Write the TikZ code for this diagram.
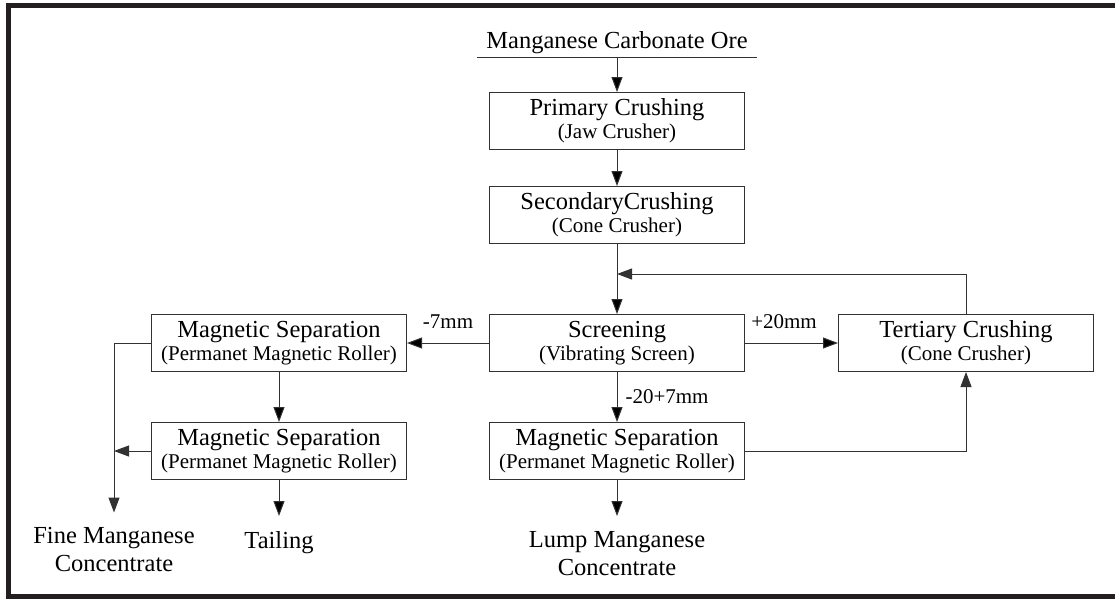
\documentclass[tikz,border=0pt]{standalone}
\usepackage{fontspec}
\setmainfont{Liberation Serif}
\usetikzlibrary{positioning,arrows.meta}

\definecolor{framegray}{RGB}{35,31,32}
\definecolor{linegray}{RGB}{50,50,50}

\newcommand{\procsub}[1]{{\fontsize{21}{23}\selectfont #1}}

\tikzset{
  proc/.style={draw=linegray, line width=1pt, minimum width=255pt, minimum height=57pt,
    align=center, inner sep=4pt, font=\fontsize{24.5}{23}\selectfont},
  outtext/.style={align=center, inner sep=0pt, outer ysep=15pt, font=\fontsize{24.5}{28}\selectfont},
  lbl/.style={inner sep=0pt, font=\fontsize{21}{24}\selectfont},
  flow/.style={->, draw=linegray, line width=1pt}
}

\begin{document}
\begin{tikzpicture}[x=1pt,y=-1pt,node distance=36pt,>={Triangle[length=15pt,width=11pt]}]
    \useasboundingbox (0,0) rectangle (1115,598);
    % frame
    \draw[line width=5pt, framegray] (1120,5.8) -- (8.5,5.8) -- (8.5,596) -- (1120,596);

    \node[font=\fontsize{24.5}{28}\selectfont, inner xsep=9pt, inner ysep=4.2pt, anchor=base] (ore) at (617,48) {Manganese Carbonate Ore};
    \draw[linegray, line width=1pt] (ore.south west) -- (ore.south east);

    \node[proc]                   (prim) at (617,121) {Primary Crushing\\\procsub{(Jaw Crusher)}};
    \node[proc, below=of prim]    (sec)  {SecondaryCrushing\\\procsub{(Cone Crusher)}};
    \node[proc, below=70pt of sec] (scr) {Screening\\\procsub{(Vibrating Screen)}};
    \node[proc, right=93pt of scr] (tert) {Tertiary Crushing\\\procsub{(Cone Crusher)}};
    \node[proc, left=82pt of scr]  (ms1)  {Magnetic Separation\\\procsub{(Permanet Magnetic Roller)}};
    \node[proc, below=50pt of ms1] (ms2)  {Magnetic Separation\\\procsub{(Permanet Magnetic Roller)}};
    \node[proc, below=50pt of scr] (ms3)  {Magnetic Separation\\\procsub{(Permanet Magnetic Roller)}};
    \node[outtext, below=of ms2]   (tail) {Tailing};
    \node[outtext, below=of ms3]   (lump) {Lump Manganese\\Concentrate};
    \node[outtext, anchor=north]   (fine) at (114,512.5) {Fine Manganese\\Concentrate};
    \coordinate[below=30pt of sec] (join);

    \path[flow] (ore)  edge (prim)
                (prim) edge (sec)
                (sec)  edge (scr)
                (scr)  edge node[lbl, above=14pt] {-7mm} (ms1)
                       edge node[lbl, above=14pt, pos=0.42] {+20mm} (tert)
                       edge node[lbl, right=8pt] {-20+7mm} (ms3)
                (ms1)  edge (ms2)
                (ms2)  edge (tail)
                (ms3)  edge (lump);
    \draw[flow] (tert) |- (join);
    \draw[flow] (ms3) -| (tert);
    \draw[flow] (ms1) -| (fine);
    \draw[flow] (ms2) -- (ms2.west -| fine.north);
\end{tikzpicture}
\end{document}
